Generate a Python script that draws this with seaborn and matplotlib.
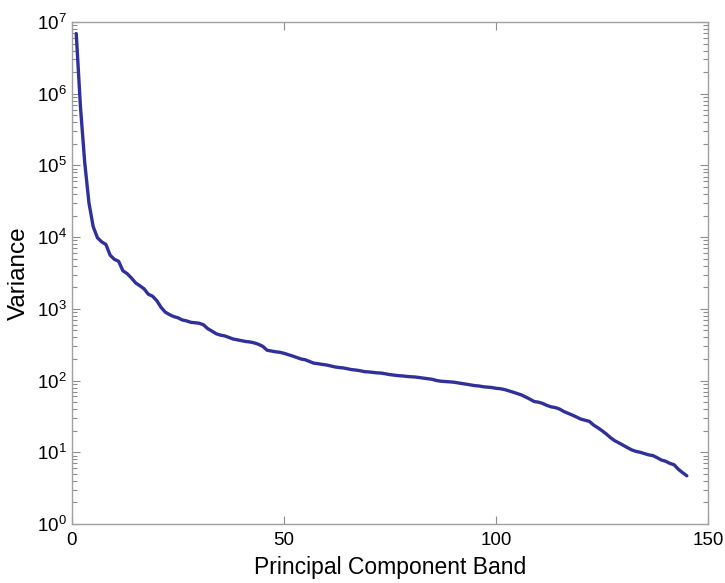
import numpy as np
import pandas as pd
import matplotlib
matplotlib.use("Agg")
import matplotlib.pyplot as plt
import seaborn as sns
from matplotlib.ticker import LogLocator, FixedLocator, NullFormatter, NullLocator

# variance of each principal component band
variance = [
    6.9e6, 6.5e5, 1.1e5, 3.0e4, 1.4e4, 9.8e3, 8.6e3, 7.9e3, 5.6e3, 4.9e3,
    4.6e3, 3.4e3, 3.1e3, 2.7e3, 2.3e3, 2.1e3, 1.9e3, 1.6e3, 1.5e3, 1.3e3,
    1.05e3, 900, 830, 780, 750, 700, 680, 650, 640, 630,
    600, 530, 490, 450, 430, 420, 400, 380, 370, 360,
    350, 345, 335, 320, 300, 265, 258, 252, 248, 240,
    230, 220, 210, 200, 195, 185, 175, 172, 168, 165,
    160, 155, 152, 150, 146, 142, 140, 137, 133, 132,
    130, 128, 127, 124, 121, 119, 117, 116, 114, 113,
    112, 110, 108, 106, 104, 100, 98, 97, 96, 95,
    93, 91, 89, 87, 85, 84, 82, 81, 80, 78,
    77, 75, 72, 69, 66, 63, 59, 55, 51, 50,
    48, 45, 43, 42, 40, 37, 35, 33, 31, 29,
    28, 27, 24, 22, 20, 18, 16, 14.5, 13.5, 12.5,
    11.6, 10.8, 10.3, 10.0, 9.6, 9.2, 9.0, 8.4, 7.8, 7.5,
    7.0, 6.7, 5.8, 5.2, 4.7,
]
bands = list(range(1, len(variance) + 1))
x_ticks = [0, 50, 100, 150]

df = pd.DataFrame({"band": bands, "variance": variance})

sns.set_theme(style="ticks")
plt.rcParams["font.family"] = ["Liberation Sans", "DejaVu Sans"]
plt.rcParams["mathtext.fontset"] = "custom"
plt.rcParams["mathtext.rm"] = "Liberation Sans"
plt.rcParams["text.color"] = "black"
plt.rcParams["axes.labelcolor"] = "black"

fig = plt.figure(figsize=(7.25, 5.83), dpi=100)
ax = fig.add_axes([0.0993, 0.1012, 0.8773, 0.8611])

sns.lineplot(data=df, x="band", y="variance", ax=ax, color="#30309a", linewidth=2.4)

ax.set_yscale("log")
ax.set_xlim(0, 150)
ax.set_ylim(1, 1e7)
ax.xaxis.set_major_locator(FixedLocator(x_ticks))
ax.xaxis.set_minor_locator(NullLocator())
ax.yaxis.set_major_locator(LogLocator(base=10, numticks=10))
ax.yaxis.set_minor_locator(LogLocator(base=10, subs=np.arange(2, 10), numticks=20))
ax.yaxis.set_minor_formatter(NullFormatter())

ax.set_xlabel("Principal Component Band", fontsize=16.5, labelpad=5)
ax.set_ylabel("Variance", fontsize=17.5, labelpad=5)

for side in ["left", "right", "top", "bottom"]:
    ax.spines[side].set_visible(True)
    ax.spines[side].set_color("#a0a0a0")
    ax.spines[side].set_linewidth(1.0)

ax.tick_params(which="both", direction="in", top=True, right=True,
               color="#8c8c8c", labelcolor="black", labelsize=13.5)
ax.tick_params(axis="x", which="major", pad=6)
ax.tick_params(which="major", length=6, width=0.8)
ax.tick_params(which="minor", length=3.5, width=0.8)
ax.grid(False)

fig.savefig("out.png", dpi=100)
